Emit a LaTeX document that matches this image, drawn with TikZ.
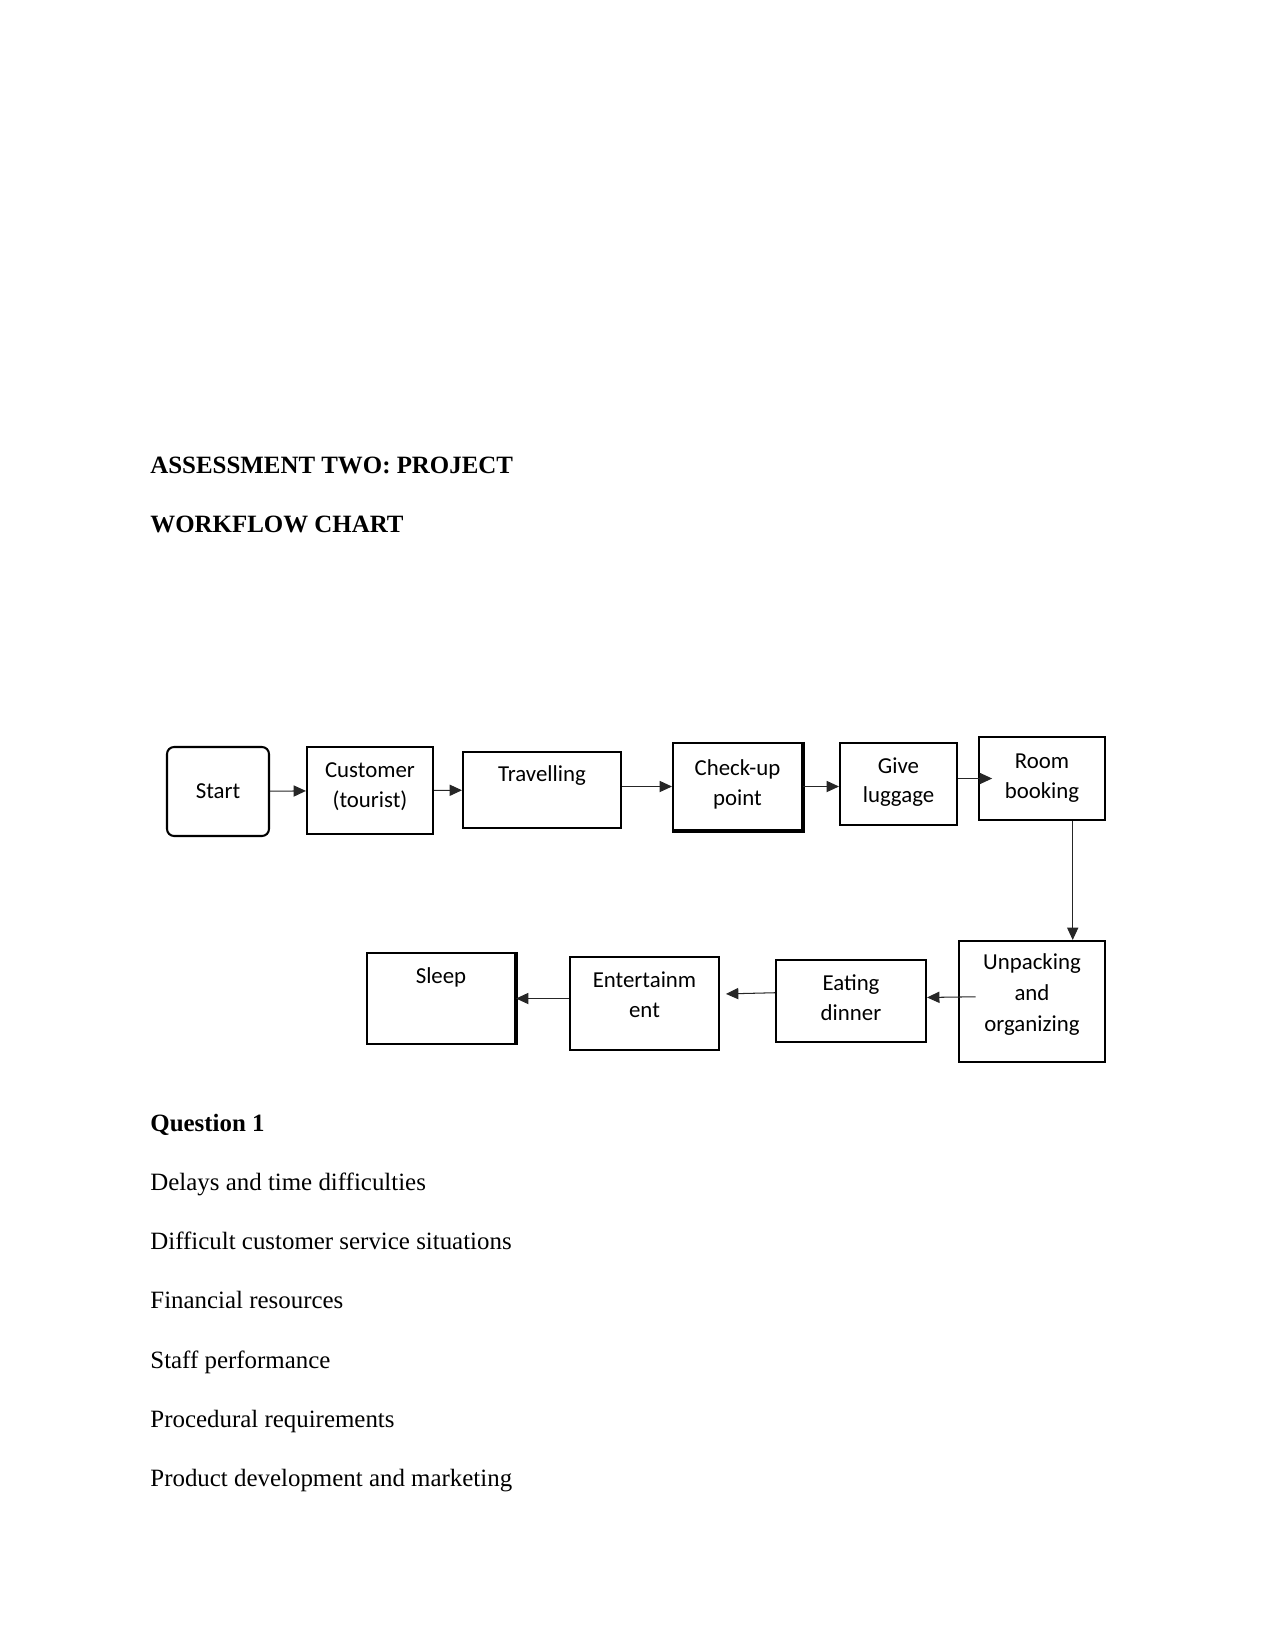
\documentclass[tikz,border=0pt]{standalone}
\usepackage{fontspec}
\setmainfont{Liberation Serif}
\newfontfamily\boxfont{Carlito}
\usetikzlibrary{arrows.meta}
% depth of the last line, to move text up in its box
\newcommand\lift[1]{\rule[-#1]{0pt}{0pt}}

\begin{document}
\begin{tikzpicture}[x=0.16933mm,y=-0.16933mm,
  box/.style 2 args={draw,line width=1pt,minimum width=#1,minimum height=#2,align=center,inner sep=1pt,font=\boxfont\fontsize{11}{14.2}\selectfont},
  flow/.style={line width=0.5pt,black!85,-{Triangle[length=2.1mm,width=1.9mm]}},
  head/.style={anchor=base west,inner sep=0pt,font=\bfseries\fontsize{12}{14}\selectfont},
  body/.style={anchor=base west,inner sep=0pt,font=\fontsize{12}{14}\selectfont}]
\useasboundingbox (0,0) rectangle (1275,1650);
% page text
\node[head] (title) at (150,473) {ASSESSMENT TWO: PROJECT};
\node[head] (sub) at (150,532) {WORKFLOW CHART};
\node[head] (q1) at (150,1131) {Question 1};
\foreach \t [count=\i] in {Delays and time difficulties,Difficult customer service situations,Financial resources,Staff performance,Procedural requirements,Product development and marketing}
  {\node[body] (item\i) at (150,1131+59.3*\i) {\t};}
% top row
\node[box={17.27mm}{15.07mm},rounded corners=1.2mm] (start) at (218,791.5) {Start};
\node[box={21.34mm}{14.73mm}] (cust) at (370,790.5) {\strut Customer\\(tourist)\lift{8pt}};
\node[box={26.75mm}{12.87mm}] (trav) at (542,790) {\strut Travelling\\\strut};
\node[box={21.84mm}{14.73mm}] (check) at (737.5,786.5) {\strut Check-up\\point\lift{6.2pt}};
\node[box={19.81mm}{13.89mm}] (give) at (898.5,784) {\strut Give\\luggage\lift{6pt}};
\node[box={21.34mm}{14.05mm}] (room) at (1042,778.5) {\strut Room\\booking\lift{5pt}};
% bottom row
\node[box={24.72mm}{20.49mm}] (unpack) at (1032,1001.5) {\strut Unpacking\\[0.6pt]and\\[0.6pt]organizing\lift{10.9pt}};
\node[box={25.40mm}{13.89mm}] (eat) at (851,1001) {\strut Eating\\dinner\lift{5.8pt}};
\node[box={25.23mm}{15.75mm}] (ent) at (644.5,1003.5) {\strut Entertainm\\ent\lift{11pt}};
\node[box={25.06mm}{15.41mm}] (sleep) at (441,998.5) {\strut Sleep\\[6.4pt]\strut};
\draw[line width=1.8pt] (check.north east) -- (check.south east) -- (check.south west);
\draw[line width=1.8pt] (sleep.north east) -- (sleep.south east);
% connectors
\draw[flow] (start) -- (cust);
\draw[flow] (cust) -- (trav);
\draw[flow] (trav.east |- check) -- (check.west);
\draw[flow] (check.east) -- (check.east -| give.west);
\draw[flow] (give.east |- room) -- ([xshift=2.4mm]room.west);
\draw[flow] ([xshift=5.2mm]room.south) -- ([xshift=5.2mm]room.south |- unpack.north);
\draw[flow] ([xshift=3mm,yshift=0.8mm]unpack.west) -- ([yshift=0.6mm]eat.east);
\draw[flow] ([yshift=1.4mm]eat.west) -- ([xshift=1mm,yshift=1.2mm]ent.east |- eat.west);
\draw[flow] (ent.west |- sleep) -- (sleep.east);
\end{tikzpicture}
\end{document}
